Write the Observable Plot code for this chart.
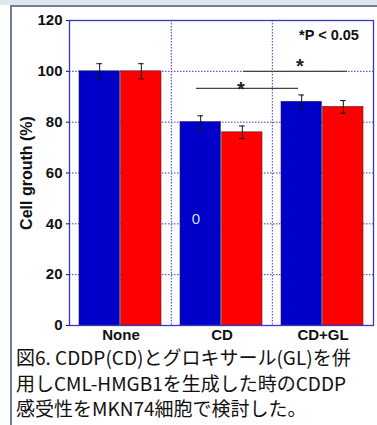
<!DOCTYPE html>
<html><head><meta charset="utf-8">
<script src="https://cdn.jsdelivr.net/npm/d3@7"></script>
<script src="https://cdn.jsdelivr.net/npm/@observablehq/plot@0.6"></script>
<style>
html,body{margin:0;padding:0;background:#fff;width:377px;height:425px;overflow:hidden;}
#strip{position:absolute;left:0;top:0;width:377px;height:5px;background:#dfe7ef;}
#box{position:absolute;left:10px;top:5px;width:380px;height:440px;border:2px solid #6d7f99;box-sizing:border-box;background:#fff;}
#chart{position:absolute;left:0;top:0;}
#cap{position:absolute;left:16px;top:344px;font-family:"Noto Sans CJK JP",sans-serif;font-size:19px;line-height:25.5px;color:#111;white-space:nowrap;}
#chart g[aria-label="y-axis label"] text{font-size:16px;}
</style></head><body>
<div id="strip"></div><div id="box"></div>
<div id="chart"></div>
<div id="cap">図6. CDDP(CD)とグロキサール(GL)を併<br>用しCML-HMGB1を生成した時のCDDP<br>感受性をMKN74細胞で検討した。</div>
<script>
const groups = ["None", "CD", "CD+GL"];
const seriesA = [100, 80, 88];   // blue
const seriesB = [100, 76, 86];   // red
const errA = [3, 2.5, 2.7];
const errB = [3, 2.5, 2.5];
const yTicks = [0, 20, 40, 60, 80, 100, 120];
const sigLines = [{from: "CD", to: "CD+GL", y: 93.3}, {from: "CD", to: "CD+GL", y: 100}];

const W = 377, H = 345, mL = 69, mR = 4;
const bw = (W - mL - mR) / groups.length;
const blue = "#0000c8", red = "#ff0000", gridC = "#3b3bd0";
const A = groups.map((g, i) => ({g, v: seriesA[i], e: errA[i]}));
const B = groups.map((g, i) => ({g, v: seriesB[i], e: errB[i]}));
const font = "'Liberation Sans', Arial, sans-serif";

function errMarks(data, dx) {
  return [
    Plot.ruleX(data, {x: "g", y1: d => d.v - d.e, y2: d => d.v + d.e, dx, stroke: "#111", strokeWidth: 1}),
    Plot.tickY(data, {x: "g", y: d => d.v + d.e, dx, stroke: "#111", insetLeft: bw/2 - 3, insetRight: bw/2 - 3}),
    Plot.tickY(data, {x: "g", y: d => d.v - d.e, dx, stroke: "#111", insetLeft: bw/2 - 3, insetRight: bw/2 - 3})
  ];
}

const plot = Plot.plot({
  width: W, height: H,
  marginLeft: mL, marginRight: mR, marginTop: 20, marginBottom: 20,
  style: {fontFamily: font, fontWeight: "bold", fontSize: "15px", color: "#111", background: "transparent"},
  x: {domain: groups, padding: 0, label: null, tickSize: 0, tickPadding: 4},
  y: {domain: [0, 120], ticks: yTicks, tickSize: 3, tickPadding: 4, label: "Cell grouth (%)", labelAnchor: "center", labelArrow: "none", labelOffset: 49},
  marks: [
    Plot.gridY(yTicks, {stroke: gridC, strokeOpacity: 1, strokeDasharray: "1.5,1.5"}),
    Plot.ruleX(groups.slice(1), {x: d => d, dx: -bw/2, stroke: gridC, strokeDasharray: "1.5,1.5"}),
    Plot.barY(A, {x: "g", y: "v", fill: blue, stroke: "#202050", strokeWidth: 0.6, insetLeft: 9, insetRight: bw/2 + 1}),
    Plot.barY(B, {x: "g", y: "v", fill: red, stroke: "#502020", strokeWidth: 0.6, insetLeft: bw/2, insetRight: 10}),
    ...errMarks(A, -bw/2 + 9 + (bw/2 - 10)/2),
    ...errMarks(B, (bw/2 - 10)/2),
    Plot.ruleY([sigLines[0]], {x1: "from", x2: "to", y: "y", stroke: "#444", strokeWidth: 1.2, insetLeft: 25, insetRight: 75}),
    Plot.ruleY([sigLines[1]], {x1: "from", x2: "to", y: "y", stroke: "#444", strokeWidth: 1.2, insetLeft: 72, insetRight: 26}),
    Plot.text(["*"], {x: () => "CD", y: () => 93.3, dx: 19, dy: 1, fontSize: 20, fontWeight: "bold", fill: "#222"}),
    Plot.text(["*"], {x: () => "CD+GL", y: () => 100, dx: -23, dy: -5, fontSize: 20, fontWeight: "bold", fill: "#222"}),
    Plot.text(["*P < 0.05"], {x: () => "CD+GL", y: () => 114, dx: 6, fontSize: 14.5, fontWeight: "bold", fill: "#111"}),
    Plot.text(["0"], {x: () => "CD", y: () => 42, dx: -26, fontSize: 15, fontWeight: "normal", fill: "#dcdcff"}),
    Plot.frame({stroke: "#3636c8", strokeWidth: 1.3})
  ]
});
document.getElementById("chart").appendChild(plot);
</script>
</body></html>
